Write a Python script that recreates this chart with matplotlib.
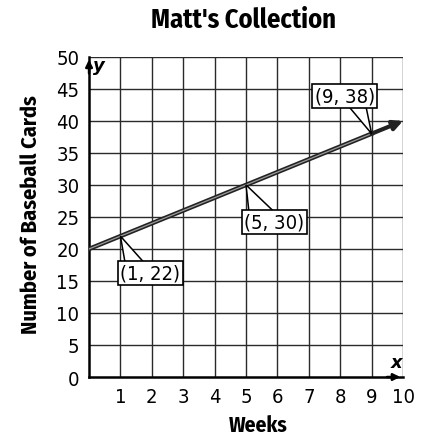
import matplotlib
matplotlib.use("Agg")
import matplotlib.pyplot as plt
from matplotlib.patches import Polygon

# data
weeks = [0, 1, 5, 9, 10]
cards = [20, 22, 30, 38, 40]
labelled_weeks = [1, 5, 9]
labelled_cards = [22, 30, 38]
label_pos = [(1.95, 16.2), (5.9, 24.2), (8.15, 43.9)]
# where the callout pointer ends inside each box (two x values and y)
pointer_base = [(1.16, 1.82, 17.5), (5.10, 5.96, 25.5), (8.23, 8.81, 42.5)]
x_ticks = [1, 2, 3, 4, 5, 6, 7, 8, 9, 10]
y_ticks = [0, 5, 10, 15, 20, 25, 30, 35, 40, 45, 50]

num_font = dict(family=["DejaVu Sans", "sans-serif"], stretch="condensed")
bold_font = dict(family=["Fira Sans Condensed", "DejaVu Sans"], fontweight="bold")

fig = plt.figure(figsize=(4.22, 4.35), dpi=100)
ax = fig.add_axes([0.211, 0.131, 0.744, 0.736])

ax.set_xlim(0, 10)
ax.set_ylim(0, 50)

# grid every week and every 5 cards
for x in range(1, 11):
    ax.axvline(x, color="#2a2a2a", lw=1.0, zorder=1)
for y in range(5, 51, 5):
    ax.axhline(y, color="#2a2a2a", lw=1.0, zorder=1)

for s in ["top", "right"]:
    ax.spines[s].set_visible(False)
ax.spines["left"].set_linewidth(1.8)
ax.spines["bottom"].set_linewidth(1.8)

# axis arrows
ax.annotate("", xy=(10, 0), xytext=(9.4, 0),
            arrowprops=dict(arrowstyle="-|>", color="black", lw=1.8), zorder=4)
ax.annotate("", xy=(0, 50), xytext=(0, 47),
            arrowprops=dict(arrowstyle="-|>", color="black", lw=1.8), zorder=4)
ax.text(0.3, 48.7, "y", fontsize=13, style="italic", fontweight="bold",
        family="DejaVu Sans", va="center", ha="center")
ax.text(9.8, 2.4, "x", fontsize=13, style="italic", fontweight="bold",
        family="DejaVu Sans", va="center", ha="center")

# the line with arrow at the end (double-stroke look)
ax.plot(weeks[:-1], cards[:-1], color="#222222", lw=3.2, zorder=3)
ax.plot(weeks[:-1], cards[:-1], color="#9a9a9a", lw=0.9, zorder=3)
ax.annotate("", xy=(weeks[-1], cards[-1]), xytext=(weeks[-2], cards[-2]),
            arrowprops=dict(arrowstyle="-|>", color="#222222", lw=3.0,
                            mutation_scale=14, shrinkA=0, shrinkB=0), zorder=3)

# callout labels: pointer triangle under a white box
for wx, cy, (tx, ty), (b1, b2, by) in zip(labelled_weeks, labelled_cards, label_pos, pointer_base):
    ax.add_patch(Polygon([(wx, cy), (b1, by), (b2, by)], closed=True,
                         fc="white", ec="black", lw=1.1, zorder=5))
    ax.text(tx, ty, f"({wx}, {cy})", ha="center", va="center", fontsize=14.5, zorder=6,
            bbox=dict(boxstyle="square,pad=0.12", fc="white", ec="black", lw=1.2),
            **num_font)

ax.set_xticks(x_ticks)
ax.set_yticks(y_ticks)
ax.tick_params(length=0, pad=7)
ax.set_xticklabels([str(v) for v in x_ticks], fontsize=14.5, **num_font)
ax.set_yticklabels([str(v) for v in y_ticks], fontsize=14.5, **num_font)

ax.set_xlabel("Weeks", fontsize=15.5, va="center", **bold_font)
ax.xaxis.set_label_coords(0.54, -0.148)
ax.set_ylabel("Number of Baseball Cards", fontsize=16, va="center", **bold_font)
ax.yaxis.set_label_coords(-0.185, 0.51)
fig.text(0.576, 0.954, "Matt's Collection", ha="center", va="center",
         fontsize=19, **bold_font)

fig.savefig("out.png", dpi=100)
